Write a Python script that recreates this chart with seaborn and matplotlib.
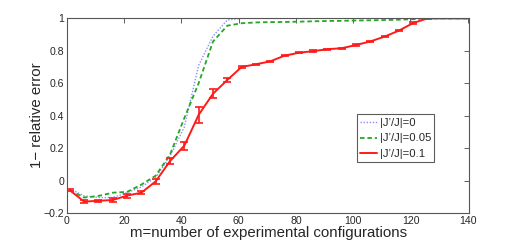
import numpy as np
import pandas as pd
import matplotlib
matplotlib.use('Agg')
import matplotlib.pyplot as plt
import seaborn as sns

# number of experimental configurations
m = [1, 6, 11, 16, 21, 26, 31, 36, 41, 46, 51, 56, 61, 66, 71, 76, 81, 86,
     91, 96, 101, 106, 111, 116, 121, 126, 131, 136, 141]

# 1 - relative error for each |J'/J|
acc_0 = [-0.05, -0.095, -0.105, -0.105, -0.075, -0.04, 0.02, 0.15, 0.33, 0.71,
         0.89, 0.99, 1.0, 1.0, 1.0, 1.0, 1.0, 1.0, 1.0, 1.0, 1.0, 1.0, 1.0,
         1.0, 1.0, 1.0, 1.0, 1.0, 1.0]
acc_005 = [-0.06, -0.105, -0.095, -0.075, -0.07, -0.025, 0.03, 0.16, 0.385, 0.6,
           0.857, 0.955, 0.97, 0.975, 0.977, 0.978, 0.98, 0.982, 0.984, 0.985,
           0.987, 0.988, 0.99, 0.992, 0.995, 1.0, 1.0, 1.0, 1.0]
acc_01 = [-0.06, -0.13, -0.125, -0.12, -0.093, -0.075, -0.005, 0.12, 0.215, 0.405,
          0.535, 0.62, 0.70, 0.717, 0.735, 0.77, 0.788, 0.798, 0.81, 0.816,
          0.836, 0.858, 0.888, 0.925, 0.972, 1.0, 1.0, 1.0, 1.0]
err_01 = [0.006, 0.01, 0.008, 0.015, 0.012, 0.01, 0.015, 0.02, 0.025, 0.05,
          0.028, 0.015, 0.005, 0.004, 0.004, 0.004, 0.004, 0.004, 0.004, 0.004,
          0.004, 0.004, 0.005, 0.005, 0.005, 0.003, 0.0, 0.0, 0.0]

labels = ["|J’/J|=0", "|J’/J|=0.05", "|J’/J|=0.1"]
colors = ['#8c8cff', '#22a822', '#ff1a1a']

xticks = [0, 20, 40, 60, 80, 100, 120, 140]
yticks = [-0.2, 0, 0.2, 0.4, 0.6, 0.8, 1]
ytick_labels = ['−0.2', '0', '0.2', '0.4', '0.6', '0.8', '1']

df = pd.DataFrame({
    'm': m * 3,
    'acc': acc_0 + acc_005 + acc_01,
    'case': [labels[0]] * len(m) + [labels[1]] * len(m) + [labels[2]] * len(m),
})

sns.set_style('white')
plt.rcParams['font.family'] = 'sans-serif'
plt.rcParams['font.sans-serif'] = ['Liberation Sans', 'DejaVu Sans']
plt.rcParams['xtick.direction'] = 'in'
plt.rcParams['ytick.direction'] = 'in'

fig = plt.figure(figsize=(5.19, 2.42), dpi=100)
ax = fig.add_axes([0.129, 0.12, 0.775, 0.804])

sns.lineplot(data=df, x='m', y='acc', hue='case', style='case',
             palette=dict(zip(labels, colors)),
             dashes={labels[0]: (1, 1.2), labels[1]: (2.5, 1.6), labels[2]: ''},
             linewidth=1.3, ax=ax, legend=False)
for ln, lw in zip(ax.get_lines(), [1.0, 1.3, 1.4]):
    ln.set_linewidth(lw)

ax.errorbar(m, acc_01, yerr=err_01, fmt='none', ecolor=colors[2],
            elinewidth=1.2, capsize=3, capthick=1.2)

ax.set_xlim(0, 140.5)
ax.set_ylim(-0.2, 1.0)
ax.set_xticks(xticks)
ax.set_yticks(yticks)
ax.set_yticklabels(ytick_labels)
ax.tick_params(labelsize=7.6, length=3.5, width=0.6, color='#444444',
               top=True, right=True, pad=2)
for s in ax.spines.values():
    s.set_color('#555555')
    s.set_linewidth(0.8)

ax.set_xlabel('m=number of experimental configurations', fontsize=10.8, labelpad=0)
ax.set_ylabel('1− relative error', fontsize=10.8, labelpad=0)

handles = ax.get_lines()[:3]
leg = ax.legend(handles, labels, loc='center left', bbox_to_anchor=(0.72, 0.383),
                fontsize=8.1, frameon=True, fancybox=False, handlelength=1.5,
                borderpad=0.3, labelspacing=0.5, handletextpad=0.25,
                borderaxespad=0)
leg.get_frame().set_edgecolor('#333333')
leg.get_frame().set_linewidth(0.8)

fig.savefig('out.png', dpi=100)
